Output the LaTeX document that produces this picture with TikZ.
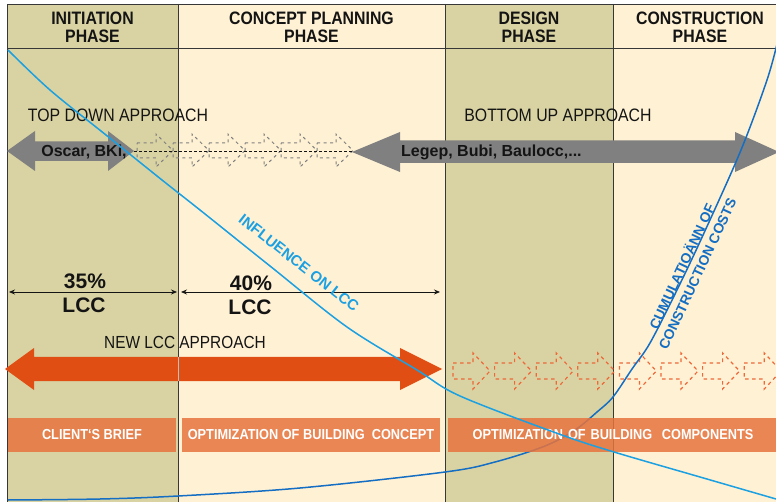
\documentclass[tikz,border=0pt]{standalone}
\usepackage{fontspec}
\setmainfont{Liberation Sans}
\newfontfamily\condfont[FakeStretch=0.88]{Liberation Sans}
\usetikzlibrary{arrows.meta}
\definecolor{khaki}{RGB}{217,211,163}
\definecolor{cream}{RGB}{255,241,212}
\definecolor{grayarrow}{RGB}{128,128,128}
\definecolor{orangearrow}{RGB}{224,78,20}
\definecolor{dashorange}{RGB}{238,104,58}
\definecolor{barorange}{RGB}{231,115,62}
\definecolor{lightblue}{RGB}{27,160,226}
\definecolor{darkblue}{RGB}{20,110,195}
\definecolor{borderc}{RGB}{55,55,55}
\definecolor{txt}{RGB}{20,20,20}
\tikzset{
  colline/.style={draw=borderc, line width=0.9pt},
  hdr/.style={align=center, inner sep=0pt, text=txt, font=\condfont\bfseries\fontsize{18}{18}\selectfont},
  approach/.style={inner sep=0pt, text=txt, font=\condfont\fontsize{18}{18}\selectfont},
  arrowlabel/.style={inner sep=0pt, text=txt, font=\bfseries\fontsize{16}{16}\selectfont},
  pct/.style={inner sep=0pt, text=txt, font=\bfseries\fontsize{21}{21}\selectfont},
  dimarrow/.style={draw=txt, line width=0.8pt, {Stealth[length=6pt,width=5pt]}-{Stealth[length=6pt,width=5pt]}},
  graydash/.style={draw=grayarrow, line width=1pt, dash pattern=on 3pt off 3.5pt},
  orangedash/.style={draw=dashorange, line width=1.2pt, dash pattern=on 3.5pt off 3.5pt},
  bar/.style={fill=barorange, fill opacity=0.85, text opacity=1, text=white, minimum height=34pt, inner sep=0pt, font=\condfont\bfseries\fontsize{14.5}{14.5}\selectfont},
  curvelabel/.style={inner sep=0pt, font=\bfseries\fontsize{14}{17}\selectfont, align=center},
}
\begin{document}
\begin{tikzpicture}[x=1pt,y=-1pt]
\useasboundingbox (0,0) rectangle (776,502);
% column backgrounds
\fill[khaki] (7,4) rectangle (178,502);
\fill[cream] (178,4) rectangle (445,502);
\fill[khaki] (445,4) rectangle (613,502);
\fill[cream] (613,4) rectangle (776,502);
% borders
\draw[colline] (7,502) -- (7,4) -- (776,4);
\draw[colline] (7,48) -- (776,48);
\foreach \x in {178,445,613} \draw[colline] (\x,4) -- (\x,502);
% headers
\node[hdr] (hInit) at (92.5,27) {INITIATION\\PHASE};
\node[hdr] (hConc) at (311.5,27) {CONCEPT PLANNING\\PHASE};
\node[hdr] (hDes) at (529,27) {DESIGN\\PHASE};
\node[hdr] (hCons) at (700,27) {CONSTRUCTION\\PHASE};
% approach titles
\node[approach] (topdown) at (118,115) {TOP DOWN APPROACH};
\node[approach] (bottomup) at (558,115) {BOTTOM UP APPROACH};
% gray solid arrows
\fill[grayarrow] (7,151) -- (35,131) -- (35,141.5) -- (108,141.5) -- (108,131) -- (134,151) -- (108,171) -- (108,161) -- (35,161) -- (35,171) -- cycle;
\fill[grayarrow] (352,152) -- (400,132) -- (400,140.5) -- (735,140.5) -- (735,132) -- (779,152) -- (735,172) -- (735,163) -- (400,163) -- (400,172) -- cycle;
% dashed gray arrows
\foreach \x in {137,173,209,245,281,317}
  \draw[graydash] (\x,143) -- (\x+19,143) -- (\x+19,134) -- (\x+36,150.5) -- (\x+19,167) -- (\x+19,158) -- (\x,158) -- cycle;
\coordinate (dl1) at (134,151);
\coordinate (dl2) at (353,151);
\draw[draw=txt, line width=0.8pt, dash pattern=on 3pt off 2pt] (dl1) -- (dl2);
\node[arrowlabel] (oscar) at (84,152) {Oscar, BKi,};
\node[arrowlabel, anchor=west] (legep) at (401,152) {Legep, Bubi, Baulocc,...};
% dimension arrows
\coordinate (d1a) at (9,292);
\coordinate (d1b) at (177,292);
\coordinate (d2a) at (181,292);
\coordinate (d2b) at (440,292);
\draw[dimarrow] (d1a) -- (d1b);
\draw[dimarrow] (d2a) -- (d2b);
\node[pct] (p35) at (85,281) {35\%};
\node[pct] (l35) at (84,305) {LCC};
\node[pct] (p40) at (251,283) {40\%};
\node[pct] (l40) at (250,307) {LCC};
% new LCC approach
\node[approach, font=\condfont\fontsize{17.5}{17.5}\selectfont] (newlcc) at (185,342) {NEW LCC APPROACH};
\fill[orangearrow] (5,369) -- (34,348) -- (34,357) -- (400,357) -- (400,348) -- (442,369) -- (400,390) -- (400,381) -- (34,381) -- (34,390) -- cycle;
\draw[draw=black!25, line width=1pt] (178,357) -- (178,381);
% dashed orange arrows
\foreach \i in {0,...,7} {
  \pgfmathsetmacro\x{453+41.6*\i}
  \draw[orangedash] (\x,363) -- (\x+20,363) -- (\x+20,353) -- (\x+37,371) -- (\x+20,389) -- (\x+20,379) -- (\x,379) -- cycle;
}
% cumulation of construction costs curve
\draw[darkblue, line width=1.5pt] plot[smooth, tension=0.55] coordinates {(8,500) (100,499) (178,496) (300,488) (445,472) (495,462) (545,446) (575,430) (597,412) (613,397) (632,369) (650,343) (677,290) (704,233) (741,150) (767,80) (778,40)};
% bars
\node[bar, minimum width=168pt] (brief) at (92,435) {CLIENT‘S BRIEF};
\node[bar, minimum width=258pt] (optconc) at (311,435) {OPTIMIZATION OF BUILDING\ \ CONCEPT};
\node[bar, minimum width=330pt, text width=320pt, align=center] (optcomp) at (613,435) {OPTIMIZATION OF BUILDING\ \ COMPONENTS};
% influence on LCC curve
\draw[lightblue, line width=1.5pt] plot[smooth, tension=0.55] coordinates {(8,50) (50,90) (106,135) (162,180) (200,210) (270,266) (347,327) (417,370) (460,396) (559,434) (614,452) (700,477) (776,499)};
% curve labels
\node[curvelabel, text=lightblue, font=\bfseries\fontsize{15}{15}\selectfont, rotate=-38] (infl) at (299,263) {INFLUENCE ON LCC};
\node[curvelabel, text=darkblue, rotate=65] (cum) at (689,270) {CUMULATIOÄNN OF\\CONSTRUCTION COSTS};
\end{tikzpicture}
\end{document}
